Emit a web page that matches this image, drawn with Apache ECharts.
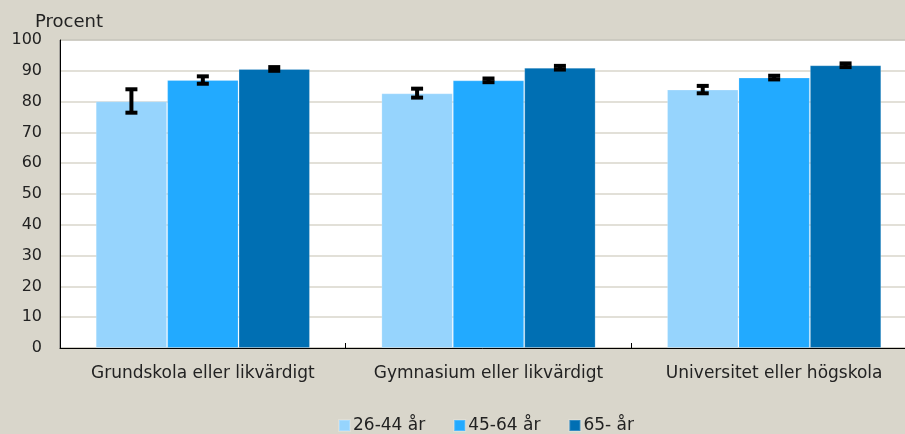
<!DOCTYPE html>
<html><head><meta charset="utf-8">
<script src="https://cdn.jsdelivr.net/npm/echarts@6/dist/echarts.min.js"></script>
<style>html,body{margin:0;padding:0;background:#D9D6CB;}#c{width:905px;height:434px;}</style>
</head><body><div id="c"></div>
<script>
const categories = ['Grundskola eller likvärdigt', 'Gymnasium eller likvärdigt', 'Universitet eller högskola'];
const seriesNames = ['26-44 år', '45-64 år', '65- år'];
const values26_44 = [80.1, 82.7, 83.9];
const values45_64 = [87.0, 86.9, 87.8];
const values65 = [90.6, 91.0, 91.8];
const errLow26_44 = [76.4, 81.3, 82.7];
const errHigh26_44 = [84.0, 84.2, 85.1];
const errLow45_64 = [85.8, 86.3, 87.2];
const errHigh45_64 = [88.2, 87.5, 88.4];
const errLow65 = [90.0, 90.4, 91.2];
const errHigh65 = [91.2, 91.6, 92.4];
const yTicks = [0, 10, 20, 30, 40, 50, 60, 70, 80, 90, 100];

const colors = ['#96D4FD', '#22AAFF', '#006FB3'];
const values = [values26_44, values45_64, values65];
const lows = [errLow26_44, errLow45_64, errLow65];
const highs = [errHigh26_44, errHigh45_64, errHigh65];
const catGapFrac = 0.25;
const font = 'DejaVu Sans';

function errSeries(si) {
  return {
    type: 'custom',
    name: seriesNames[si] + ' err',
    z: 10,
    silent: true,
    data: categories.map((c, i) => [i, lows[si][i], highs[si][i]]),
    renderItem: function (params, api) {
      const idx = api.value(0);
      const lo = api.coord([idx, api.value(1)]);
      const hi = api.coord([idx, api.value(2)]);
      const bandW = api.size([1, 0])[0];
      const barW = bandW * (1 - catGapFrac) / 3;
      const x = lo[0] + (si - 1) * barW;
      const capW = 12, capH = 4;
      return {
        type: 'group',
        children: [
          { type: 'rect', shape: { x: x - 2, y: hi[1], width: 4, height: lo[1] - hi[1] }, style: { fill: '#000' } },
          { type: 'rect', shape: { x: x - capW / 2, y: hi[1] - capH / 2, width: capW, height: capH }, style: { fill: '#000' } },
          { type: 'rect', shape: { x: x - capW / 2, y: lo[1] - capH / 2, width: capW, height: capH }, style: { fill: '#000' } }
        ]
      };
    }
  };
}

const chart = echarts.init(document.getElementById('c'));
chart.setOption({
  animation: false,
  backgroundColor: '#D9D6CB',
  textStyle: { fontFamily: font },
  title: { text: 'Procent', left: 30, top: 8, textStyle: { fontFamily: font, fontSize: 18, fontWeight: 'normal', color: '#222' } },
  grid: { left: 60, top: 40, width: 857, bottom: 86, outerBoundsMode: 'none', containLabel: false, show: true, backgroundColor: '#fff', borderColor: '#6e6e6e', borderWidth: 1 },
  legend: {
    bottom: -5, left: 333, itemWidth: 11, itemHeight: 11, itemGap: 28,
    icon: 'rect',
    data: seriesNames,
    textStyle: { fontFamily: font, fontSize: 17, color: '#222', padding: [0, 0, 0, -2] }
  },
  xAxis: {
    type: 'category', data: categories,
    axisLine: { lineStyle: { color: '#000', width: 1 } },
    axisTick: { show: true, inside: true, length: 5, interval: 0, lineStyle: { color: '#000' } },
    axisLabel: { fontFamily: font, fontSize: 17, color: '#222', margin: 17, interval: 0 }
  },
  yAxis: {
    type: 'value', min: 0, max: 100, interval: 10,
    axisLine: { show: true, lineStyle: { color: '#000', width: 1 } },
    axisTick: { show: false },
    splitLine: { lineStyle: { color: '#D9D6CB', width: 1.5 } },
    axisLabel: { fontFamily: font, fontSize: 16, color: '#222', margin: 18 }
  },
  series: values.map((v, si) => ({
    type: 'bar', name: seriesNames[si], data: v,
    barGap: '0%', barCategoryGap: (catGapFrac * 100) + '%',
    itemStyle: { color: colors[si], borderColor: 'rgba(255,255,255,0.2)', borderWidth: 1 }
  })).concat([0, 1, 2].map(errSeries))
});
</script></body></html>
